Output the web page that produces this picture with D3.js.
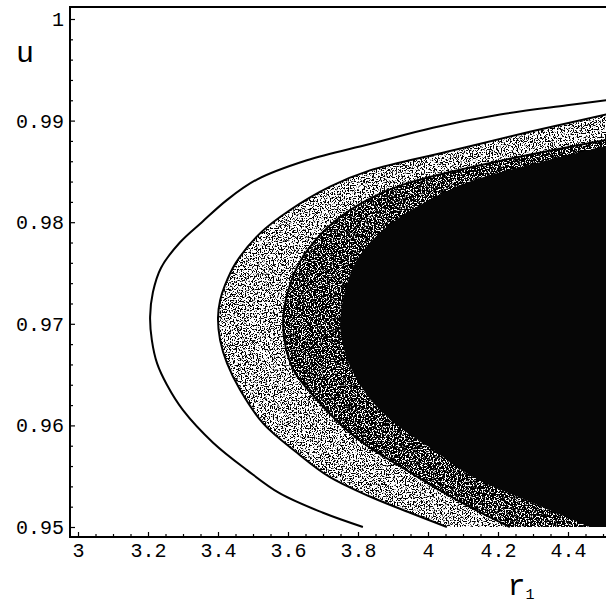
<!DOCTYPE html>
<html>
<head>
<meta charset="utf-8">
<script src="https://cdn.jsdelivr.net/npm/d3@7"></script>
<style>
  html, body { margin: 0; padding: 0; background: #ffffff; }
  svg { display: block; }
</style>
</head>
<body>
<svg id="chart" width="606" height="607"></svg>
<script>
// ---- data ----
const xTicks = [3, 3.2, 3.4, 3.6, 3.8, 4, 4.2, 4.4];
const xTickLabels = ["3", "3.2", "3.4", "3.6", "3.8", "4", "4.2", "4.4"];
const yTicks = [0.95, 0.96, 0.97, 0.98, 0.99, 1];
const yTickLabels = ["0.95", "0.96", "0.97", "0.98", "0.99", "1"];

// outermost contour (line only)
const c1x = [3.814, 3.700, 3.577, 3.483, 3.386, 3.300, 3.254, 3.226, 3.211, 3.206, 3.214, 3.237, 3.291, 3.354, 3.426, 3.511, 3.654, 3.834, 4.014, 4.206, 4.397, 4.509];
const c1y = [0.9500, 0.9514, 0.9533, 0.9556, 0.9583, 0.9615, 0.9640, 0.9661, 0.9684, 0.9707, 0.9731, 0.9755, 0.9780, 0.9800, 0.9822, 0.9842, 0.9861, 0.9877, 0.9893, 0.9906, 0.9915, 0.9920];
// second contour (outer edge of light band)
const c2x = [4.054, 3.949, 3.834, 3.720, 3.626, 3.529, 3.463, 3.426, 3.406, 3.400, 3.406, 3.420, 3.451, 3.520, 3.606, 3.720, 3.834, 4.063, 4.291, 4.509];
const c2y = [0.9500, 0.9514, 0.9530, 0.9549, 0.9573, 0.9602, 0.9635, 0.9661, 0.9684, 0.9706, 0.9723, 0.9738, 0.9760, 0.9789, 0.9812, 0.9835, 0.9851, 0.9870, 0.9889, 0.9906];
// third contour (outer edge of dark band)
const c3x = [4.234, 4.134, 4.034, 3.920, 3.834, 3.763, 3.683, 3.620, 3.594, 3.586, 3.597, 3.634, 3.711, 3.806, 3.929, 4.214, 4.509];
const c3y = [0.9500, 0.9517, 0.9536, 0.9560, 0.9578, 0.9597, 0.9625, 0.9652, 0.9676, 0.9701, 0.9728, 0.9761, 0.9794, 0.9818, 0.9837, 0.9861, 0.9881];
// innermost region (black core)
const c4x = [4.463, 4.311, 4.120, 4.006, 3.920, 3.849, 3.797, 3.763, 3.749, 3.760, 3.797, 3.877, 3.977, 4.120, 4.320, 4.509];
const c4y = [0.9500, 0.9522, 0.9551, 0.9578, 0.9598, 0.9620, 0.9645, 0.9671, 0.9699, 0.9728, 0.9763, 0.9794, 0.9817, 0.9840, 0.9859, 0.9875];

// ---- scales ----
const x = d3.scaleLinear().domain([3, 4.4]).range([78, 568]);
const y = d3.scaleLinear().domain([0.95, 1]).range([527, 19]);
const xLo = x.invert(70), xHi = x.invert(606);
const yLo = y.invert(537), yHi = y.invert(7);

const svg = d3.select("#chart");
const defs = svg.append("defs");
defs.append("clipPath").attr("id", "plotclip")
  .append("rect")
  .attr("x", x(xLo)).attr("y", y(yHi))
  .attr("width", x(xHi) - x(xLo)).attr("height", y(yLo) - y(yHi));

// stipple texture (emulates the printed dot screen)
function stipple(id, thr, seed) {
  const f = defs.append("filter").attr("id", id)
    .attr("filterUnits", "userSpaceOnUse")
    .attr("x", 0).attr("y", 0).attr("width", 606).attr("height", 607);
  f.append("feTurbulence").attr("type", "fractalNoise").attr("baseFrequency", 0.75)
    .attr("numOctaves", 2).attr("seed", seed).attr("result", "n");
  f.append("feColorMatrix").attr("in", "n").attr("type", "matrix")
    .attr("values", "0 0 0 0 0  0 0 0 0 0  0 0 0 0 0  1 0 0 0 0").attr("result", "a");
  const ct = f.append("feComponentTransfer").attr("in", "a").attr("result", "t");
  ct.append("feFuncA").attr("type", "linear").attr("slope", 14).attr("intercept", -14 * thr);
  f.append("feComposite").attr("in", "t").attr("in2", "SourceAlpha").attr("operator", "in");
}
stipple("stipLight", 0.51, 4);
stipple("stipDark", 0.40, 9);

const zip = (xs, ys) => xs.map((v, i) => [v, ys[i]]);
const c1 = zip(c1x, c1y), c2 = zip(c2x, c2y), c3 = zip(c3x, c3y), c4 = zip(c4x, c4y);

const line = d3.line().x(d => x(d[0])).y(d => y(d[1])).curve(d3.curveCatmullRom.alpha(0.5));
const region = pts => line(pts) + "L" + x(pts[pts.length - 1][0]) + "," + y(0.95) + "Z";

const g = svg.append("g").attr("clip-path", "url(#plotclip)");
g.append("path").attr("d", region(c2)).attr("fill", "#000").attr("filter", "url(#stipLight)");
g.append("path").attr("d", region(c3)).attr("fill", "#fff");
g.append("path").attr("d", region(c3)).attr("fill", "#000").attr("filter", "url(#stipDark)");
g.append("path").attr("d", region(c4)).attr("fill", "#060606");

[c1, c2, c3].forEach(pts => {
  g.append("path").attr("d", line(pts))
    .attr("fill", "none").attr("stroke", "#000").attr("stroke-width", 2);
});

// ---- frame ----
svg.append("path")
  .attr("d", `M${x(xHi)},${y(yHi)}H${x(xLo)}V${y(yLo)}H${x(xHi)}`)
  .attr("fill", "none").attr("stroke", "#000").attr("stroke-width", 2);

// ---- axes (ticks inward) ----
const font = "'Liberation Mono', 'DejaVu Sans Mono', monospace";
const xAxis = d3.axisBottom(x).tickValues(xTicks).tickFormat((d, i) => xTickLabels[i])
  .tickSizeInner(-5).tickSizeOuter(0).tickPadding(6);
const gx = svg.append("g").attr("transform", `translate(0,${y(yLo)})`).call(xAxis);
gx.select(".domain").remove();

const yAxis = d3.axisLeft(y).tickValues(yTicks).tickFormat((d, i) => yTickLabels[i])
  .tickSizeInner(-5).tickSizeOuter(0).tickPadding(6);
const gy = svg.append("g").attr("transform", `translate(${x(xLo)},0)`).call(yAxis);
gy.select(".domain").remove();

// minor ticks
const xMinor = d3.range(0, 31).map(i => 3 + i * 0.05).filter(v => v < xHi && Math.abs(v * 5 - Math.round(v * 5)) > 1e-6);
const yMinor = d3.range(0, 26).map(i => 0.95 + i * 0.002).filter(v => Math.abs(v * 100 - Math.round(v * 100)) > 1e-6);
const gxm = svg.append("g").attr("transform", `translate(0,${y(yLo)})`)
  .call(d3.axisBottom(x).tickValues(xMinor).tickFormat("").tickSizeInner(-3).tickSizeOuter(0));
gxm.select(".domain").remove();
const gym = svg.append("g").attr("transform", `translate(${x(xLo)},0)`)
  .call(d3.axisLeft(y).tickValues(yMinor).tickFormat("").tickSizeInner(-3).tickSizeOuter(0));
gym.select(".domain").remove();

svg.selectAll(".tick line").attr("stroke", "#000").attr("stroke-width", 1.2);
svg.selectAll(".tick text").attr("font-family", font).attr("font-size", 20).attr("fill", "#000");

// ---- axis titles ----
svg.append("text").attr("x", 25).attr("y", 62).attr("text-anchor", "middle")
  .attr("font-family", font).attr("font-size", 30).text("u");
const xt = svg.append("text").attr("x", 521).attr("y", 595).attr("text-anchor", "middle")
  .attr("font-family", font).attr("font-size", 30);
xt.append("tspan").text("r");
xt.append("tspan").attr("font-size", 15).attr("dy", 4).text("1");
</script>
</body>
</html>
